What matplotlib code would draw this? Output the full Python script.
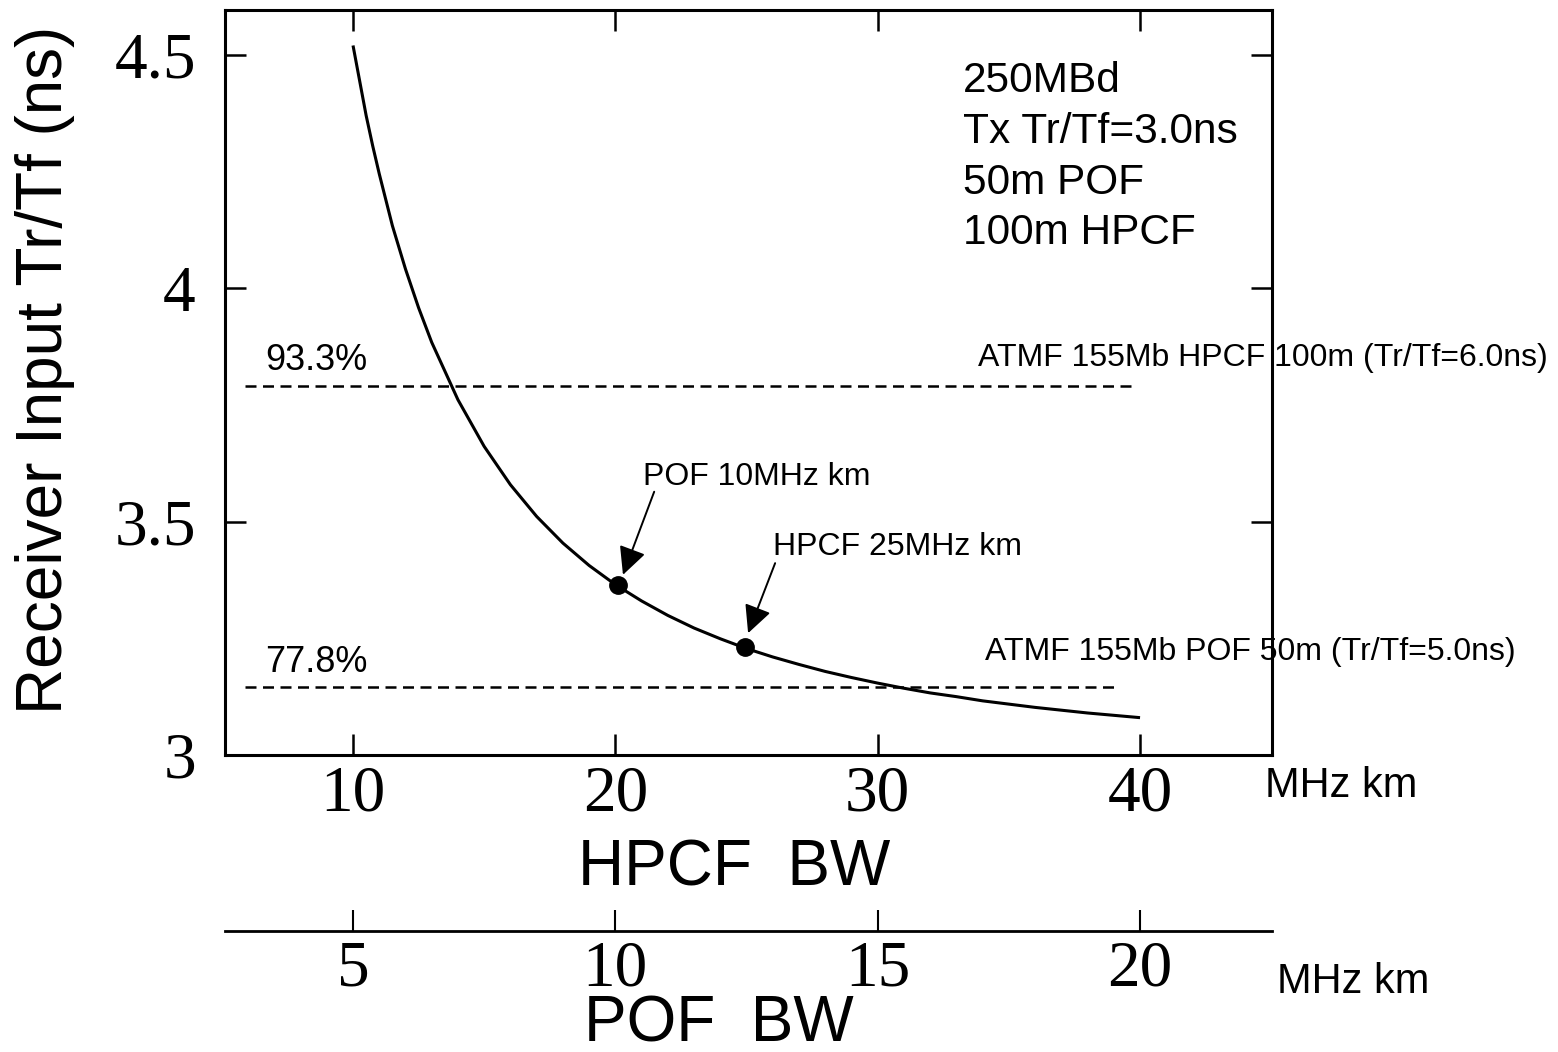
import numpy as np
import matplotlib
matplotlib.use("Agg")
import matplotlib.pyplot as plt

# Leitura da curva (HPCF BW em MHz km -> Tr/Tf na entrada do receptor em ns)
hpcf_bw = [10, 10.25, 10.5, 10.75, 11, 11.5, 12, 12.5, 13, 14, 15, 16, 17, 18,
           19, 20, 21, 22, 23, 24, 25, 26, 27, 28, 29, 30, 31, 32, 33, 34, 35,
           36, 37, 38, 39, 40]
rise_ns = [4.52, 4.445, 4.37, 4.305, 4.245, 4.134, 4.041, 3.958, 3.884, 3.761,
           3.661, 3.579, 3.511, 3.454, 3.406, 3.365, 3.330, 3.299, 3.272, 3.249,
           3.228, 3.210, 3.194, 3.179, 3.166, 3.154, 3.143, 3.133, 3.125, 3.116,
           3.109, 3.102, 3.096, 3.090, 3.085, 3.080]

# Pontos marcados
mark_x = [20.1, 24.95]
mark_y = [3.364, 3.231]
mark_labels = ["POF 10MHz km", "HPCF 25MHz km"]

# Limites ATMF
limit_y = [3.79, 3.146]
limit_x1 = [39.74, 39.17]
limit_pct = ["93.3%", "77.8%"]
limit_names = ["ATMF 155Mb HPCF 100m (Tr/Tf=6.0ns)",
               "ATMF 155Mb POF 50m (Tr/Tf=5.0ns)"]

cond_lines = ["250MBd", "Tx Tr/Tf=3.0ns", "50m POF", "100m HPCF"]

hpcf_ticks = [10, 20, 30, 40]
pof_ticks = [5, 10, 15, 20]
y_ticks = [3, 3.5, 4, 4.5]

sans = "Liberation Sans"
serif = "Liberation Serif"

W, H = 1558, 1052
fig = plt.figure(figsize=(W / 100, H / 100), dpi=100)
ax = fig.add_axes([225 / W, (H - 755) / H, 1047 / W, 745 / H])

ax.plot(hpcf_bw, rise_ns, color="black", lw=2.2, solid_capstyle="butt")
ax.plot(mark_x, mark_y, "o", color="black", markersize=12.5)

for yv, x1 in zip(limit_y, limit_x1):
    ax.plot([5.88, x1], [yv, yv], color="black", lw=1.8, dashes=(4.4, 2.6))

ax.text(6.65, 3.825, limit_pct[0], fontsize=26, family=sans)
ax.text(6.65, 3.178, limit_pct[1], fontsize=26, family=sans)
ax.text(33.83, 3.833, limit_names[0], fontsize=23, family=sans, clip_on=False)
ax.text(34.09, 3.204, limit_names[1], fontsize=23, family=sans, clip_on=False)

# Setas
seta = dict(arrowstyle="-|>,head_length=0.85,head_width=0.42",
            mutation_scale=20, color="black", lw=1.4, shrinkA=0, shrinkB=0)
ax.annotate("", xy=(20.29, 3.386), xytext=(21.48, 3.564), arrowprops=seta)
ax.annotate("", xy=(25.06, 3.261), xytext=(26.09, 3.411), arrowprops=seta)
ax.text(21.06, 3.579, mark_labels[0], fontsize=23, family=sans)
ax.text(26.01, 3.429, mark_labels[1], fontsize=23, family=sans)

# Condicoes
for i, s in enumerate(cond_lines):
    ax.annotate(s, xy=(33.26, 4.42), xytext=(0, -i * 36.5),
                textcoords="offset points", fontsize=30.5, family=sans,
                va="baseline")

ax.set_xlim(5.12, 45.03)
ax.set_ylim(3, 4.596)
ax.set_xticks(hpcf_ticks)
ax.set_yticks(y_ticks)
ax.set_xticklabels([str(t) for t in hpcf_ticks], family=serif, fontsize=47)
ax.set_yticklabels(["3", "3.5", "4", "4.5"], family=serif, fontsize=47)
ax.tick_params(axis="both", direction="in", length=15, width=1.8,
               top=True, right=True)
ax.tick_params(axis="x", pad=7)
ax.tick_params(axis="y", pad=21)
for sp in ax.spines.values():
    sp.set_linewidth(2.2)

# Eixo POF
ax2 = fig.add_axes([225 / W, (H - 930.5) / H, 1047 / W, 0.0001])
ax2.set_xlim(5.12 / 2, 45.03 / 2)
ax2.set_yticks([])
ax2.set_xticks(pof_ticks)
ax2.set_xticklabels([str(t) for t in pof_ticks], family=serif, fontsize=47)
ax2.tick_params(axis="x", direction="in", length=15, width=1.5, pad=7)
for side in ["top", "left", "right"]:
    ax2.spines[side].set_visible(False)
ax2.spines["bottom"].set_linewidth(2.0)
ax2.patch.set_visible(False)

fig.text(45 / W, 1 - 370 / H, "Receiver Input Tr/Tf (ns)", rotation=90,
         ha="center", va="center", fontsize=46, family=sans)
fig.text(734 / W, 1 - 885 / H, "HPCF  BW", ha="center", va="baseline",
         fontsize=46, family=sans)
fig.text(719 / W, 1 - 1042 / H, "POF  BW", ha="center", va="baseline",
         fontsize=46, family=sans)
fig.text(1265 / W, 1 - 797 / H, "MHz km", fontsize=30, family=sans,
         va="baseline")
fig.text(1277 / W, 1 - 993 / H, "MHz km", fontsize=30, family=sans,
         va="baseline")

fig.savefig("out.png", dpi=100)
